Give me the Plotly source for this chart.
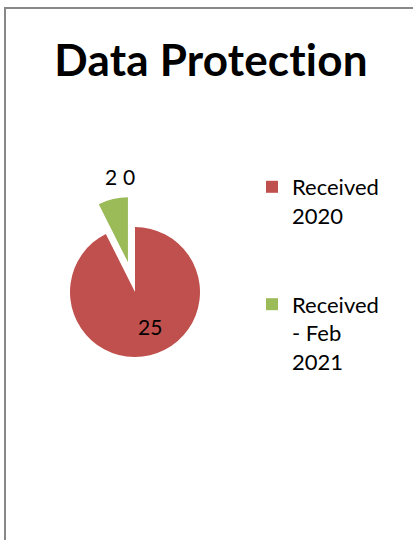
import plotly.graph_objects as go

# chart data
categories = ['Received<br>2020<br>&nbsp;<br>&nbsp;', 'Received<br>- Feb<br>2021']
values = [25, 2]
hidden_value = 0  # third series point shown only as a data label
colors = ['#C0504D', '#9BBB59']
pulls = [0, 0.47]
title_text = 'Data Protection'

W, H = 413, 540
cx, cy, r = 135, 292, 65  # pie centre / radius in px
half = r * (1 + max(pulls))

fig = go.Figure(go.Pie(
    labels=categories,
    values=values,
    marker=dict(colors=colors, line=dict(width=0)),
    pull=pulls,
    sort=False,
    direction='clockwise',
    rotation=0,
    textinfo='none',
    hoverinfo='label+value',
    domain=dict(x=[(cx - half) / W, (cx + half) / W],
                y=[(H - cy - half) / H, (H - cy + half) / H]),
))

# data labels
lab_font = dict(family='Lato', size=21, color='#000000')
label_pos = [(150, 326), (111, 177), (129, 177)]
label_txt = [str(values[0]), str(values[1]), str(hidden_value)]
for (lx, ly), t in zip(label_pos, label_txt):
    fig.add_annotation(x=lx / W, y=1 - ly / H, xref='paper', yref='paper',
                       xanchor='center', yanchor='middle',
                       text=t, showarrow=False, font=lab_font)

# chart frame
fig.add_shape(type='rect', xref='paper', yref='paper',
              x0=5 / W, x1=1.05, y0=-0.05, y1=1 - 8 / H,
              line=dict(color='#888888', width=2))

fig.update_layout(
    width=W, height=H,
    margin=dict(l=0, r=0, t=0, b=0),
    paper_bgcolor='white',
    plot_bgcolor='white',
    # a tiny letter-spacing stops Lato from drawing the "ti" ligature
    title=dict(text='<b><span style="letter-spacing:0.2px">' + title_text + '</span></b>',
               x=211 / W, xanchor='center', y=1 - 61 / H, yanchor='middle',
               font=dict(family='Lato', size=44, color='#000000')),
    legend=dict(x=252 / W, y=1 - 166 / H, xanchor='left', yanchor='top',
                valign='top', font=dict(family='Lato', size=22, color='#000000'),
                bgcolor='rgba(0,0,0,0)'),
)

# drop the default page margin so the figure sits at the window corner
fig.write_html("out.html", config={'displayModeBar': False},
               post_script="document.body.style.margin='0';")
